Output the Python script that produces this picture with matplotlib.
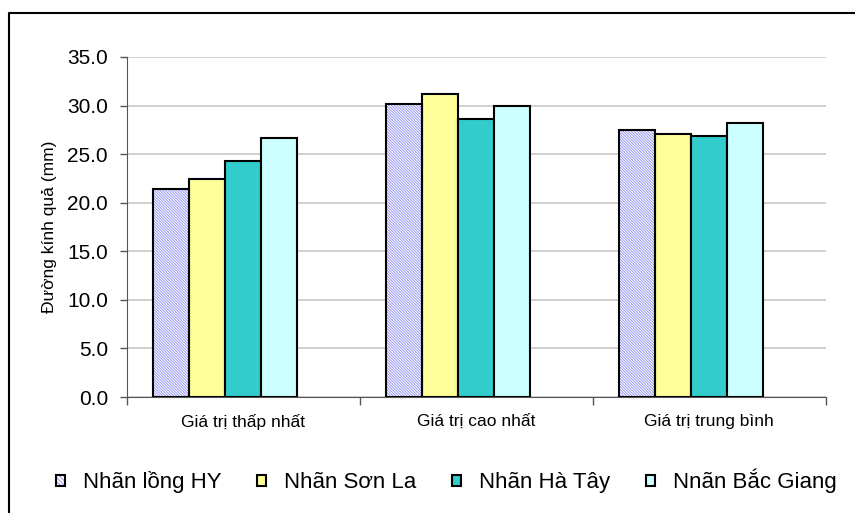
import numpy as np
import matplotlib.pyplot as plt
from matplotlib.patches import Patch
from matplotlib.lines import Line2D
from matplotlib.legend_handler import HandlerTuple

plt.rcParams['font.family'] = ['Liberation Sans', 'DejaVu Sans']
plt.rcParams['hatch.linewidth'] = 0.7

groups = ['Giá trị thấp nhất', 'Giá trị cao nhất', 'Giá trị trung bình']
series = ['Nhãn lồng HY', 'Nhãn Sơn La', 'Nhãn Hà Tây', 'Nnãn Bắc Giang']
values = [
    [21.4, 30.2, 27.5],   # Nhãn lồng HY
    [22.4, 31.2, 27.1],   # Nhãn Sơn La
    [24.3, 28.6, 26.9],   # Nhãn Hà Tây
    [26.7, 30.0, 28.2],   # Nnãn Bắc Giang
]
yticks = [0, 5, 10, 15, 20, 25, 30, 35]

colors = ['white', '#ffff99', '#33cccc', '#ccffff']
hatch_col = '#9a9af5'
dense_hatch = '\\' * 12

fig = plt.figure(figsize=(8.55, 5.13), dpi=100)
ax = fig.add_axes([0.1482, 0.2261, 0.8175, 0.6628])

x = np.arange(len(groups))
w = 0.155
for i, (name, vals) in enumerate(zip(series, values)):
    pos = x + (i - 2) * w
    if i == 0:
        # hatch takes the edge colour, so draw it first and outline on top
        ax.bar(pos, vals, width=w, color='white', edgecolor=hatch_col,
               linewidth=0, hatch=dense_hatch, zorder=3)
        ax.bar(pos, vals, width=w, fill=False, edgecolor='black',
               linewidth=1.5, zorder=4)
    else:
        ax.bar(pos, vals, width=w, color=colors[i], edgecolor='black',
               linewidth=1.5, zorder=3)

ax.set_xlim(-0.5, 2.5)
ax.set_ylim(0, 35)
ax.set_yticks(yticks)
ax.set_yticklabels([f'{v:.1f}' for v in yticks], fontsize=15)
ax.yaxis.grid(True, color='#c8c8c8', linewidth=1.2, zorder=0)
ax.set_axisbelow(True)

ax.set_xticks(x)
ax.set_xticklabels(groups, fontsize=12.5)
ax.set_xticks([-0.5, 0.5, 1.5, 2.5], minor=True)
ax.tick_params(axis='x', which='major', length=0, pad=12)
ax.tick_params(axis='x', which='minor', length=6, width=1, color='#555555')
ax.tick_params(axis='y', length=5, width=1, color='#555555', pad=8.5)

for s in ['top', 'right']:
    ax.spines[s].set_visible(False)
ax.spines['left'].set_color('#555555')
ax.spines['bottom'].set_color('#555555')

ax.set_ylabel('Đường kính quả (mm)', fontsize=12.5)
ax.yaxis.set_label_coords(-0.10, 0.5)

handles = []
for i in range(4):
    if i == 0:
        handles.append((Patch(facecolor='white', edgecolor=hatch_col, linewidth=0,
                              hatch='\\' * 8),
                        Patch(fill=False, edgecolor='black', linewidth=1.5)))
    else:
        handles.append(Patch(facecolor=colors[i], edgecolor='black', linewidth=1.5))
fig.legend(handles=handles, labels=series, loc='center',
           bbox_to_anchor=(446 / 855, 1 - 481 / 513),
           ncol=4, frameon=False, fontsize=16, handlelength=0.42, handleheight=0.42,
           handletextpad=0.8, columnspacing=1.6,
           handler_map={tuple: HandlerTuple(ndivide=1, pad=0)})

# outer frame (left and top edges)
fx = 8.5 / 855
fy = 1 - 12.5 / 513
fig.add_artist(Line2D([fx, fx, 1], [0, fy, fy], transform=fig.transFigure,
                      color='black', linewidth=1.5))

fig.savefig('out.png', dpi=100)
